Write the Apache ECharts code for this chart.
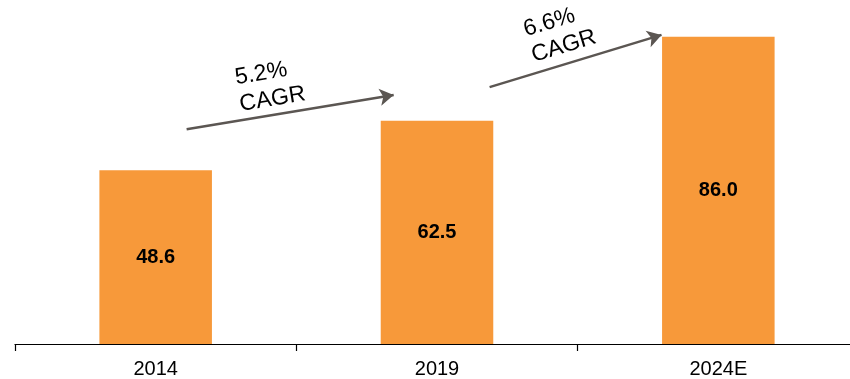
<!DOCTYPE html>
<html>
<head>
<meta charset="utf-8">
<script src="https://cdn.jsdelivr.net/npm/echarts@6/dist/echarts.min.js"></script>
<style>
  html, body { margin: 0; padding: 0; background: #fff; overflow: hidden; }
  /* the last category band runs a little past the visible right edge */
  #chart { width: 860px; height: 379px; }
</style>
</head>
<body>
<div id="chart"></div>
<script>
// Market size by year (bars) and growth rates between periods
const categories = ['2014', '2019', '2024E'];
const marketValues = [48.6, 62.5, 86.0];
const cagrRates = ['5.2%', '6.6%'];

// Annotation placement in chart units (x: category index, y: value)
const arrowPaths = [
  [[0.110, 60.1], [0.846, 69.7]],
  [[1.187, 71.9], [1.798, 86.5]]
];
const cagrAnchors = [[0.291, 70.7], [1.324, 84.2]];
const cagrAngles = [9.4, 16.9];

const FONT = "'Liberation Sans', Arial, sans-serif";
const BAR_COLOR = '#F7993A';
const ARROW_COLOR = '#5B5652';

const chart = echarts.init(document.getElementById('chart'));

chart.setOption({
  animation: false,
  grid: { left: 15, right: 1, top: 22.4, bottom: 34.5, containLabel: false },
  xAxis: [
    {
      type: 'category',
      data: categories,
      axisLine: { lineStyle: { color: '#000', width: 1.2 } },
      axisTick: { show: true, length: 7, lineStyle: { color: '#000', width: 1.2 } },
      axisLabel: { color: '#000', fontSize: 20, fontFamily: FONT, margin: 15 }
    },
    { type: 'value', min: -0.5, max: 2.5, show: false }
  ],
  yAxis: { type: 'value', min: 0, max: 90, show: false, splitLine: { show: false } },
  series: [
    {
      type: 'bar',
      data: marketValues,
      barWidth: '40%',
      itemStyle: { color: BAR_COLOR },
      label: {
        show: true,
        position: 'inside',
        color: '#000',
        fontSize: 20,
        fontWeight: 'bold',
        fontFamily: FONT,
        formatter: p => p.value.toFixed(1)
      }
    },
    {
      type: 'scatter',
      xAxisIndex: 1,
      data: [],
      markLine: {
        silent: true,
        symbol: ['none', 'arrow'],
        symbolSize: [13, 14],
        label: { show: false },
        lineStyle: { color: ARROW_COLOR, width: 2.5, type: 'solid' },
        data: arrowPaths.map(p => [{ coord: p[0] }, { coord: p[1] }])
      },
      markPoint: {
        silent: true,
        symbol: 'circle',
        symbolSize: 0,
        data: cagrAnchors.map((c, i) => ({
          coord: c,
          label: {
            show: true,
            position: 'inside',
            align: 'left',
            verticalAlign: 'middle',
            rotate: cagrAngles[i],
            formatter: cagrRates[i] + '\nCAGR',
            color: '#000',
            fontSize: 23,
            lineHeight: 27,
            fontFamily: FONT
          }
        }))
      }
    }
  ]
});
</script>
</body>
</html>
